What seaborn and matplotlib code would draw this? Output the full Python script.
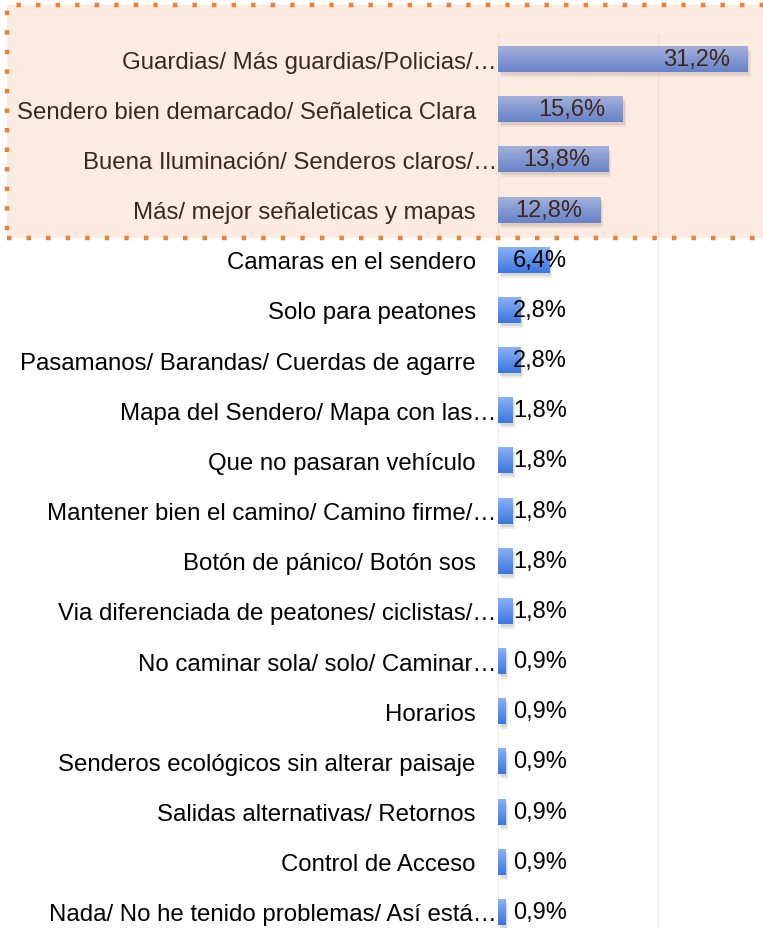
import numpy as np
import pandas as pd
import matplotlib
matplotlib.use('Agg')
import matplotlib.pyplot as plt
import seaborn as sns
from matplotlib.colors import LinearSegmentedColormap
from matplotlib.patches import Rectangle
from matplotlib.transforms import ScaledTranslation

# --- data -----------------------------------------------------------------
labels = [
    'Guardias/ Más guardias/Policias/…',
    'Sendero bien demarcado/ Señaletica Clara',
    'Buena Iluminación/ Senderos claros/…',
    'Más/ mejor señaleticas y mapas',
    'Camaras en el sendero',
    'Solo para peatones',
    'Pasamanos/ Barandas/ Cuerdas de agarre',
    'Mapa del Sendero/ Mapa con las…',
    'Que no pasaran vehículo',
    'Mantener bien el camino/ Camino firme/…',
    'Botón de pánico/ Botón sos',
    'Via diferenciada de peatones/ ciclistas/…',
    'No caminar sola/ solo/ Caminar…',
    'Horarios',
    'Senderos ecológicos sin alterar paisaje',
    'Salidas alternativas/ Retornos',
    'Control de Acceso',
    'Nada/ No he tenido problemas/ Así está…',
]
values = [31.2, 15.6, 13.8, 12.8, 6.4, 2.8, 2.8, 1.8, 1.8, 1.8, 1.8, 1.8,
          0.9, 0.9, 0.9, 0.9, 0.9, 0.9]
value_text = [f'{v:.1f}%'.replace('.', ',') for v in values]

df = pd.DataFrame({'label': labels, 'value': values})

# --- figure ---------------------------------------------------------------
sns.set_style('white')
plt.rcParams['font.family'] = ['Liberation Sans', 'DejaVu Sans']
plt.rcParams['text.color'] = 'black'
plt.rcParams['ytick.color'] = 'black'

W, H = 763, 929
fig = plt.figure(figsize=(W / 100, H / 100), dpi=100)
# axes runs past the bottom edge, the last bar is cut like in the original
ax = fig.add_axes([498 / W, (929 - 938) / H, 1 - 498 / W, (938 - 35) / H])
ax.set_facecolor('none')

sns.barplot(data=df, x='value', y='label', orient='h', width=0.52,
            color='#5b8fe8', ax=ax, zorder=3)

# gradient fill + soft shadow for every bar
cmap = LinearSegmentedColormap.from_list('bar', ['#8cb4f8', '#3a76de'])
grad = np.linspace(0, 1, 64).reshape(-1, 1)
for p in list(ax.patches):
    x0, y0 = p.get_xy()
    w, h = p.get_width(), p.get_height()
    for k, a in [(0.10, 0.10), (0.06, 0.14)]:
        sh = Rectangle((x0 + 0.35 * k / 0.1, y0 + k), w, h, color='#555555',
                       alpha=a, lw=0, zorder=2)
        ax.add_patch(sh)
    p.set_facecolor('none')
    p.set_edgecolor('none')
    im = ax.imshow(grad, cmap=cmap, origin='lower', aspect='auto',
                   extent=(x0, x0 + w, y0, y0 + h), zorder=3)
    im.set_clip_path(p)

# value labels: inside end for long bars, next to the axis otherwise
for i, (v, t) in enumerate(zip(values, value_text)):
    if v > 10:
        ax.text(v - 2.25, i, t, ha='right', va='center', fontsize=17,
                color='black', zorder=5)
    else:
        ax.text(1.85, i, t, ha='left', va='center', fontsize=17,
                color='black', zorder=5)

ax.set_xlim(0, 33.1)
ax.set_ylim(17.5, -0.5)
ax.set_xticks([0, 20])
ax.set_xticklabels([])
ax.tick_params(axis='both', length=0)
ax.tick_params(axis='y', pad=16, labelsize=17.3, labelcolor='black')
ax.grid(axis='x', color='#eeeeee', lw=1, zorder=0)
ax.set_xlabel('')
ax.set_ylabel('')
for s in ax.spines.values():
    s.set_visible(False)

# truncated labels sit a bit closer to the bars
for lab in ax.get_yticklabels():
    if lab.get_text().endswith('…'):
        lab.set_transform(lab.get_transform() +
                          ScaledTranslation(21 / 100, 0, fig.dpi_scale_trans))

# highlighted block around the top four answers
x0f, y0f = 7 / W, 1 - 239 / H
box = Rectangle((x0f, y0f), 1.02 - x0f, (239 - 6) / H, transform=fig.transFigure,
                facecolor='#f7ac82', alpha=0.24, edgecolor='none', zorder=10)
fig.patches.append(box)
border = Rectangle((x0f, y0f), 1.02 - x0f, (239 - 6) / H, transform=fig.transFigure,
                   facecolor='none', edgecolor='#f07f30', lw=3.2,
                   linestyle=(0, (1.0, 3.4)), zorder=11)
border.set_capstyle('butt')
fig.patches.append(border)

fig.savefig('out.png', dpi=100)
